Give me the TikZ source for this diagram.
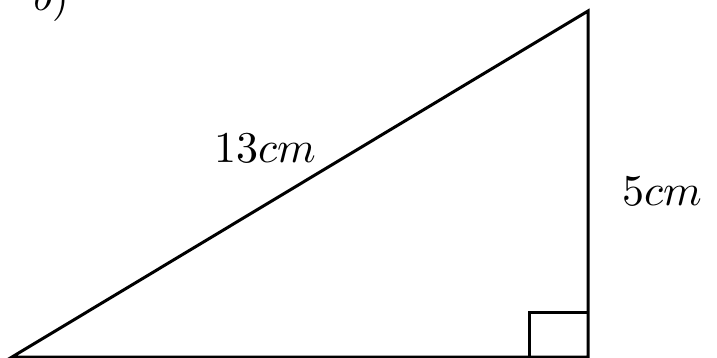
\documentclass[tikz,border=0pt]{standalone}
\usetikzlibrary{positioning}

\begin{document}
\begin{tikzpicture}[
  x=1pt, y=-1pt,
  lado/.style={line width=3pt, line join=miter},
  etiqueta/.style={scale=4.4, inner sep=0pt},
  angulo/.style={line width=3pt}
]
\useasboundingbox (0,0) rectangle (717,358);

% Vertices del triangulo
\coordinate (A) at (12,357);
\coordinate (B) at (588,357);
\coordinate (C) at (588,11);

% Lados
\draw[lado] (A) -- (B) -- (C) -- cycle;

% Angulo recto
\draw[angulo] (B) ++(-59,0) coordinate (r1) -- ++(0,-45) coordinate (r2) -- (r2 -| B);

% Etiquetas
\node[etiqueta, anchor=base] (titulo) at (51,11) {$b)$};
\node[etiqueta, anchor=base] (hip) at (265,163) {$13cm$};
\node[etiqueta, anchor=base] (cat) at (662,206) {$5cm$};
\end{tikzpicture}
\end{document}
